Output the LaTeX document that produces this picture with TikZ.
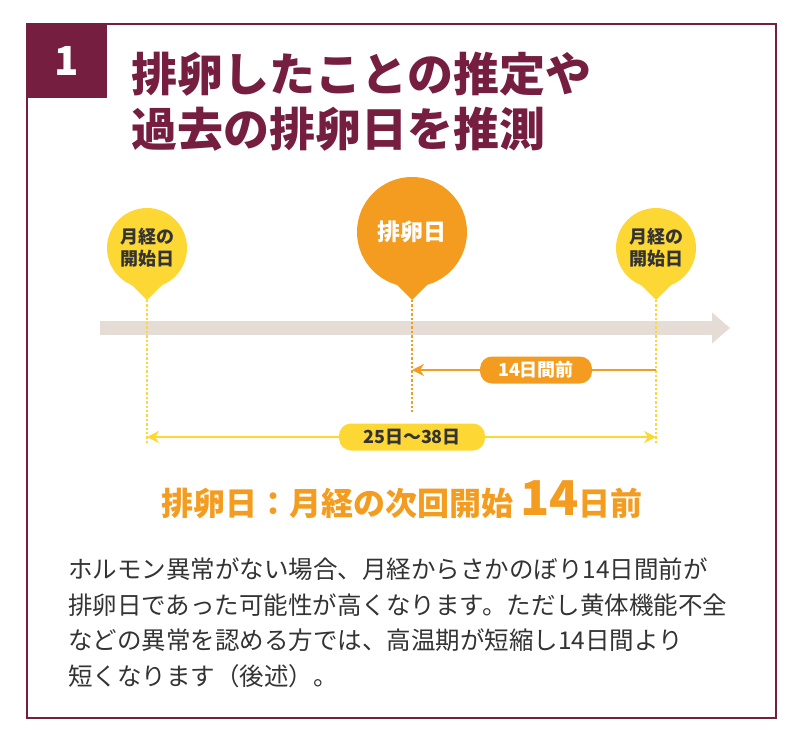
\documentclass[tikz,border=0pt]{standalone}
\usepackage{fontspec}
\setmainfont{Noto Sans CJK JP}
\usetikzlibrary{arrows.meta,positioning}
\definecolor{maroon}{HTML}{751E40}
\definecolor{yelw}{HTML}{FDD835}
\definecolor{ovul}{HTML}{F39C1F}
\definecolor{band}{HTML}{E6DCD6}
\definecolor{txt}{HTML}{333333}
\tikzset{
  pill/.style={rounded corners=12pt,minimum height=27pt,inner xsep=18pt,font=\fontsize{18}{18}\selectfont\bfseries},
  dot/.style={dotted,line width=2.4pt}
}
\begin{document}
\begin{tikzpicture}[x=1pt,y=-1pt]
      \useasboundingbox (0,0) rectangle (800,747);
      \draw[maroon,line width=1.5pt] (27,24) rectangle (776,718);
      \node[fill=maroon,minimum width=80pt,minimum height=74pt,text=white,font=\fontsize{40}{40}\selectfont\bfseries](num) at (67,61) {1};
      \node[anchor=west,text=maroon,font=\fontsize{46}{55}\selectfont\bfseries,align=left](title) at (128,102) {排卵したことの推定や\\過去の排卵日を推測};

      % time axis
      \coordinate (axs) at (100,328);
      \coordinate (axe) at (730,328);
      \draw[band,line width=14pt,-{Triangle[length=18pt,width=30pt]}] (axs) -- (axe);

      % pins
      \fill[yelw] (147,248) circle (40) (127,280) -- (167,280) -- (147,300) -- cycle;
      \node[txt,align=center,font=\fontsize{18}{22}\selectfont\bfseries](L) at (147,248) {月経の\\開始日};
      \fill[yelw] (656,248) circle (40) (636,280) -- (676,280) -- (656,300) -- cycle;
      \node[txt,align=center,font=\fontsize{18}{22}\selectfont\bfseries](R) at (656,248) {月経の\\開始日};
      \fill[ovul] (412,232) circle (55) (387,275) -- (437,275) -- (412,300) -- cycle;
      \node[white,font=\fontsize{23}{23}\selectfont\bfseries](O) at (412,232) {排卵日};

      \coordinate (Lb) at (147,445);
      \coordinate (Rb) at (656,445);
      \coordinate (Ob) at (412,412);
      \draw[yelw,dot] (147,300) -- (Lb);
      \draw[yelw,dot] (656,300) -- (Rb);
      \draw[ovul,dot] (412,300) -- (Ob);

      % 14 days
      \coordinate (a1) at (656,370);
      \coordinate (a2) at (412,370);
      \draw[ovul,line width=2.5pt,-{Stealth[length=12pt,width=12pt]}] (a1) -- (a2);
      \node[pill,fill=ovul,text=white](d14) at (536,370) {14日間前};

      % cycle
      \coordinate (b1) at (147,437);
      \coordinate (b2) at (656,437);
      \draw[yelw,line width=2.5pt,{Stealth[length=12pt,width=12pt]}-{Stealth[length=12pt,width=12pt]}] (b1) -- (b2);
      \node[pill,fill=yelw,text=txt,inner xsep=24pt](cyc) at (412,437) {25日〜38日};

      \node[ovul,font=\fontsize{32}{32}\selectfont\bfseries](res) at (402,500) {排卵日：月経の次回開始 {\fontsize{48}{48}\selectfont 14}日前};

      \node[anchor=north west,txt,align=left,font=\fontsize{24.5}{35.5}\selectfont,inner sep=0pt](body) at (68,558) {ホルモン異常がない場合、月経からさかのぼり14日間前が\\排卵日であった可能性が高くなります。ただし黄体機能不全\\などの異常を認める方では、高温期が短縮し14日間より\\短くなります（後述）。};
\end{tikzpicture}
\end{document}
